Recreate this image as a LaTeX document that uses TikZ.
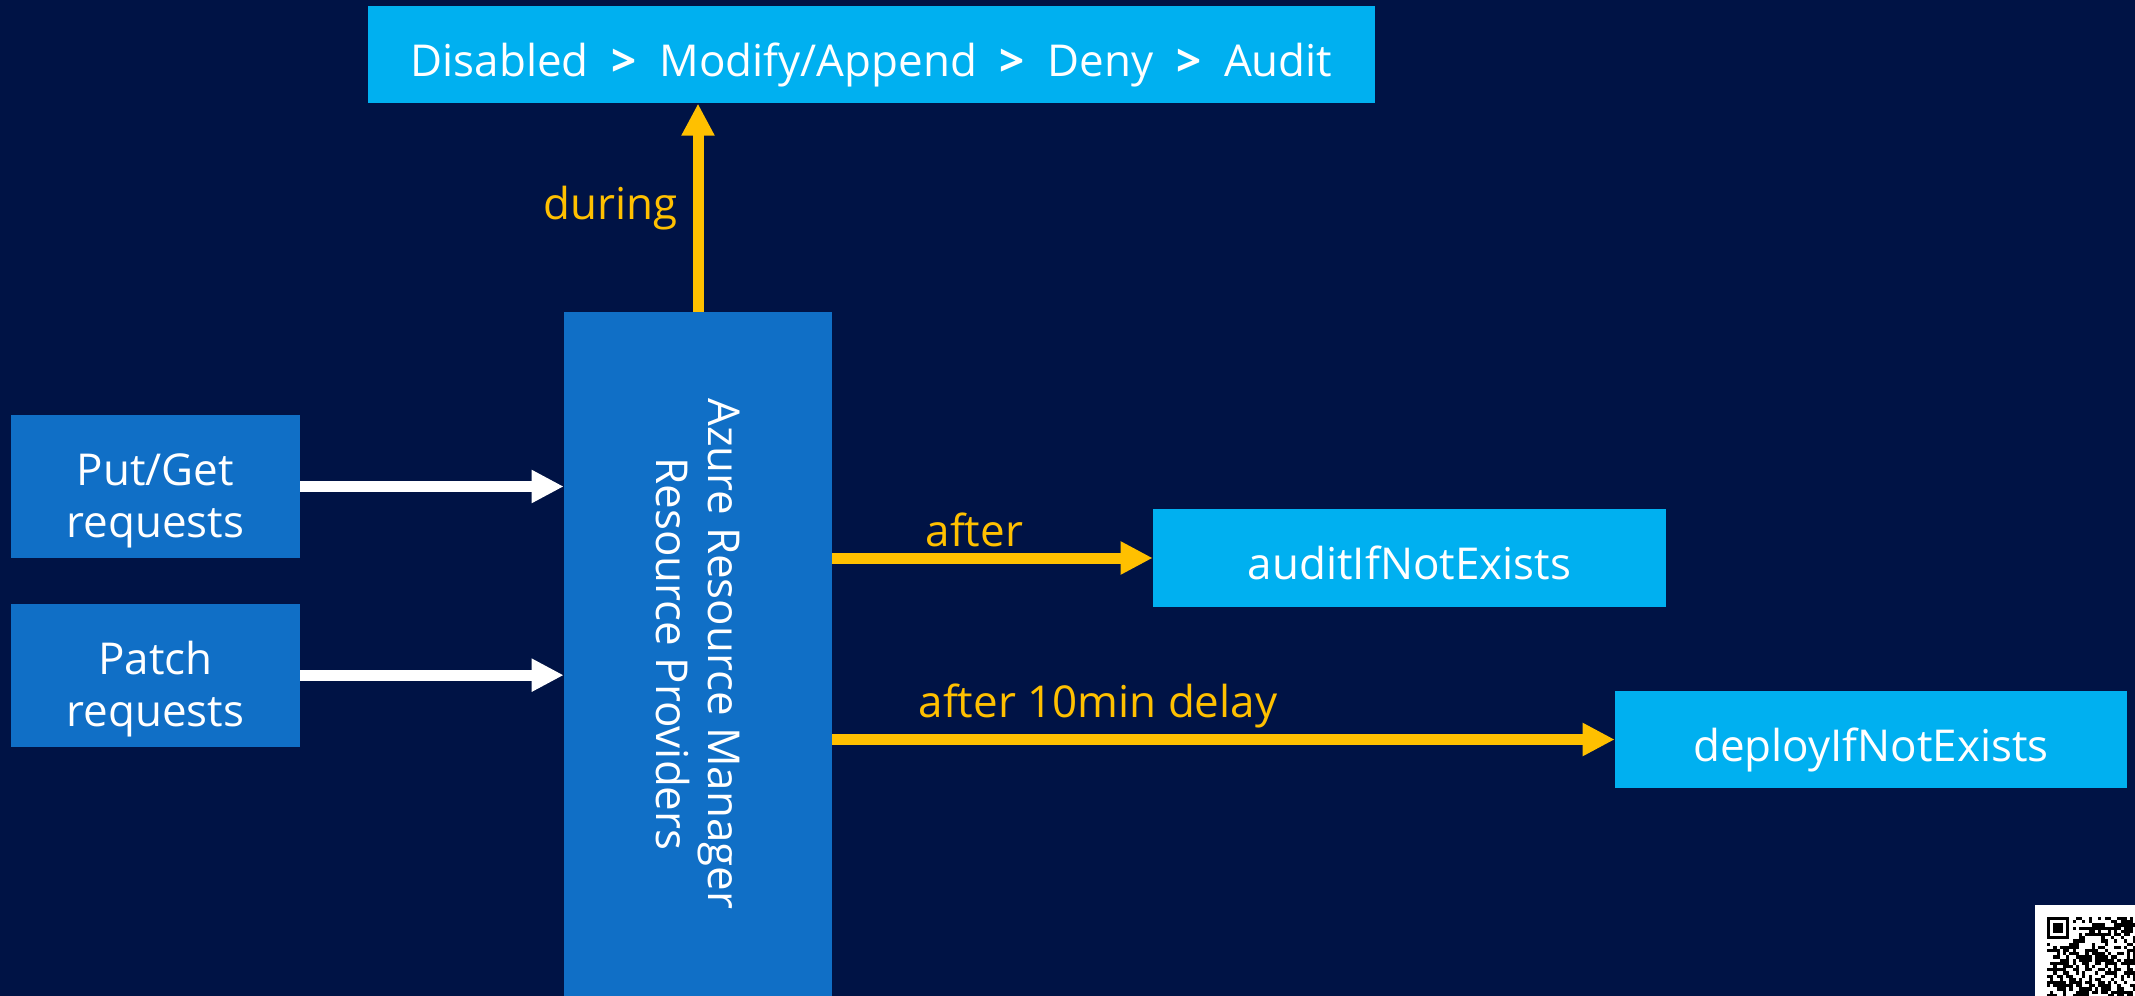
\documentclass[tikz,border=0pt]{standalone}
\usepackage{fontspec}
\setmainfont{Open Sans}
\usepackage{tikz}
\usetikzlibrary{positioning,arrows.meta}

\definecolor{navybg}{RGB}{0,19,69}
\definecolor{armblue}{RGB}{16,111,198}
\definecolor{cyanbox}{RGB}{0,176,240}
\definecolor{flowyellow}{RGB}{255,192,0}

\newcommand{\nextfx}{\ \hspace{6.5pt}\textbf{>}\hspace{6.5pt}\ }

\tikzset{
  base/.style={inner sep=0pt, text=white, align=center,
    font=\fontsize{25}{29.6}\selectfont},
  request/.style={base, fill=armblue, minimum width=5.78cm, minimum height=2.86cm},
  effect/.style={base, fill=cyanbox, minimum height=1.95cm,
    text height=0.88cm, text depth=0pt},
  pipe/.style={line width=0.22cm, -{Triangle[length=0.64cm,width=0.62cm]}},
  flowlabel/.style={text=flowyellow, font=\fontsize{25}{29.6}\selectfont}
}

\begin{document}
\begin{tikzpicture}[x=0.02cm,y=-0.02cm]
  % slide background
  \fill[navybg] (0,0) rectangle (2135,996);
  \useasboundingbox (0,0) rectangle (2135,996);

  % ARM in the middle, requests on the left
  \node[base, fill=armblue, minimum width=5.36cm, minimum height=13.68cm] (arm) at (698,654) {};
  \node[base, rotate=-90] (armtext) at (arm.center) {Azure Resource Manager\\Resource Providers};
  \node[request] (putget) at (155.5,486.5) {};
  \node[request] (patch) [below=0.9cm of putget] {};
  \node[base, yshift=-0.28cm] (putgettext) at (putget.center) {Put/Get\\requests};
  \node[base, yshift=-0.28cm] (patchtext) at (patch.center) {Patch\\requests};

  % policy effects
  \node[effect, minimum width=20.14cm] (policy) at (871.5,54.5)
    {Disabled\nextfx Modify/Append\nextfx Deny\nextfx Audit};
  \node[effect, minimum width=10.26cm] (audit) at (1409.5,558) {auditIfNotExists};
  \node[effect, minimum width=10.24cm] (deploy) at (1871,739.5) {deployIfNotExists};

  % requests into ARM
  \draw[pipe, white] (putget.east) -- (putget.east -| arm.west);
  \draw[pipe, white] (patch.east) -- (patch.east -| arm.west);

  % when the effects are evaluated
  \draw[pipe, flowyellow] (arm.north) -- (policy.south -| arm.north)
    node[flowlabel, midway, left, xshift=-0.18cm] (during) {during};
  \draw[pipe, flowyellow] (audit.west -| arm.east) -- (audit.west)
    node[flowlabel, at start, above right, xshift=1.64cm] (after) {after};
  \draw[pipe, flowyellow] (deploy.west -| arm.east) -- (deploy.west)
    node[flowlabel, at start, above right, xshift=1.5cm] (afterdelay) {after 10min delay};

  % QR code in the corner
  \fill[white] (2035,905) rectangle (2135,996);
  \fill[black] (2047,917) rectangle ++(22.4,22.4);
  \fill[white] (2050.2,920.2) rectangle ++(16,16);
  \fill[black] (2053.4,923.4) rectangle ++(9.6,9.6);
  \pgfmathsetseed{7}
  \foreach \i in {0,...,27}{
    \foreach \j in {0,...,24}{
      \pgfmathtruncatemacro{\qrbit}{(random(0,1)==1)&&!((\i<8)&&(\j<8))}
      \ifnum\qrbit=1 \fill[black] (2047+\i*3.2,917+\j*3.2) rectangle ++(3.2,3.2); \fi
    }
  }
\end{tikzpicture}
\end{document}
